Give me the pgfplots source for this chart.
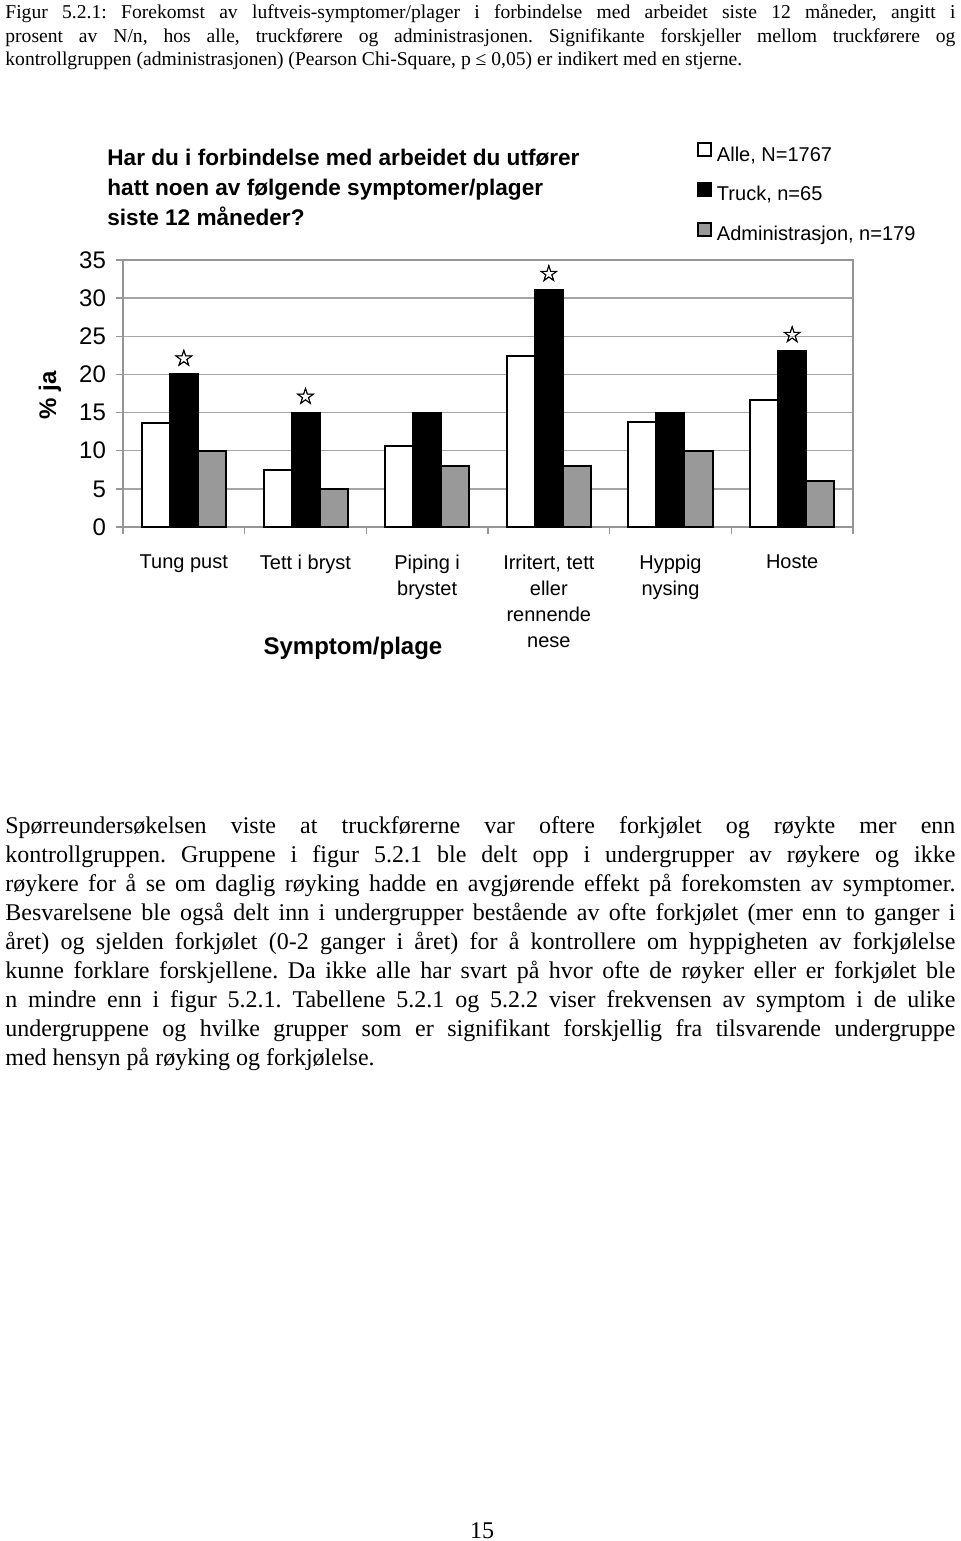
\documentclass[border=0pt]{standalone}
\usepackage{fontspec}
\setmainfont{Liberation Serif}
\setsansfont{Liberation Sans}
\newfontfamily\symfont[FakeBold=1.8]{DejaVu Sans}
\usepackage{pgfplots}
\pgfplotsset{compat=1.18}
\definecolor{admgray}{RGB}{153,153,153}
\definecolor{gridgray}{RGB}{165,165,165}
\definecolor{framegray}{RGB}{150,150,150}
\pgfplotsset{sqleg/.style={legend image code/.code={\draw[##1,line width=0.8pt] (0pt,0pt) rectangle (6.5pt,6.5pt);}}}
\frenchspacing
\hyphenpenalty=10000
\exhyphenpenalty=10000

\begin{document}
\begin{tikzpicture}
\path[use as bounding box] (0,0) rectangle (480pt,-770.5pt);
% caption
\node[anchor=north west, inner sep=0pt, text width=475pt, align=justify,
      font=\fontsize{9.8}{11.75}\selectfont]
  at (2.5pt,-2pt)
  {Figur 5.2.1: Forekomst av luftveis-symptomer/plager i forbindelse med arbeidet siste 12 måneder, angitt i\linebreak prosent av N/n, hos alle, truckførere og administrasjonen. Signifikante forskjeller mellom truckførere og\linebreak kontrollgruppen (administrasjonen) (Pearson Chi-Square, p ≤ 0,05) er indikert med en stjerne.};
% body text
\node[anchor=north west, inner sep=0pt, text width=475pt, align=justify,
      font=\fontsize{12}{14.5}\selectfont]
  at (2.5pt,-408pt)
  {Spørreundersøkelsen viste at truckførerne var oftere forkjølet og røykte mer enn\linebreak kontrollgruppen. Gruppene i figur 5.2.1 ble delt opp i undergrupper av røykere og ikke\linebreak røykere for å se om daglig røyking hadde en avgjørende effekt på forekomsten av symptomer.\linebreak Besvarelsene ble også delt inn i undergrupper bestående av ofte forkjølet (mer enn to ganger i\linebreak året) og sjelden forkjølet (0-2 ganger i året) for å kontrollere om hyppigheten av forkjølelse\linebreak kunne forklare forskjellene. Da ikke alle har svart på hvor ofte de røyker eller er forkjølet ble\linebreak n mindre enn i figur 5.2.1. Tabellene 5.2.1 og 5.2.2 viser frekvensen av symptom i de ulike\linebreak undergruppene og hvilke grupper som er signifikant forskjellig fra tilsvarende undergruppe\linebreak med hensyn på røyking og forkjølelse.};
% page number
\node[anchor=base, inner sep=0pt, font=\fontsize{12}{14}\selectfont] at (241pt,-769pt) {15};
% chart title
\node[anchor=north west, align=left, inner sep=0pt,
      font=\sffamily\bfseries\fontsize{11.3}{15}\selectfont] at (53.5pt,-74.5pt)
  {Har du i forbindelse med arbeidet du utfører\\hatt noen av følgende symptomer/plager\\siste 12 måneder?};
\begin{axis}[
  at={(61.5pt,-263.5pt)}, anchor=south west,
  scale only axis, width=365pt, height=133.5pt,
  xmin=0, xmax=6, ymin=0, ymax=35,
  ytick={0,5,...,35},
  xtick={0.5,1.5,...,5.5},
  xticklabels={Tung pust, Tett i bryst, {Piping i\\brystet}, {Irritert, tett\\eller\\rennende\\nese}, {Hyppig\\nysing}, Hoste},
  minor xtick={0,1,...,6},
  ymajorgrids, grid style={gridgray, line width=0.7pt},
  axis line style={framegray, line width=0.7pt},
  tick align=outside, tick pos=left,
  major tick length=3.5pt, minor tick length=3.5pt,
  tick style={framegray, line width=0.7pt},
  major x tick style={draw=none},
  /pgf/number format/assume math mode=true,
  yticklabel style={font=\sffamily\fontsize{12}{14}\selectfont, xshift=-1.5pt},
  xticklabel style={font=\sffamily\fontsize{10}{13}\selectfont, align=center, anchor=north, yshift=-7pt},
  ylabel={\% ja},
  ylabel style={font=\sffamily\bfseries\fontsize{12}{14}\selectfont, at={(axis description cs:-0.1,0.494)}, anchor=center},
  xlabel={Symptom/plage},
  xlabel style={font=\sffamily\bfseries\fontsize{12}{14}\selectfont, at={(axis description cs:0.315,-0.453)}, anchor=center},
  ybar, bar width=14pt,
  legend style={at={(axis description cs:0.7863,1.442)}, anchor=north west, draw=none, fill=none,
     inner sep=0pt, row sep=6.5pt, column sep=1pt,
     font=\sffamily\fontsize{10}{12}\selectfont,
     nodes={inner sep=1.5pt, text height=7.5pt, text depth=2.5pt}},
  legend cell align=left,
]
\addplot[ybar, bar shift=-14pt, fill=white, draw=black, line width=1pt, sqleg]
  coordinates {(0.5,13.6) (1.5,7.5) (2.5,10.6) (3.5,22.4) (4.5,13.8) (5.5,16.7)};
\addplot[ybar, bar shift=0pt, fill=black, draw=black, line width=1pt, sqleg]
  coordinates {(0.5,20) (1.5,15) (2.5,15) (3.5,31.1) (4.5,15) (5.5,23.1)};
\addplot[ybar, bar shift=14pt, fill=admgray, draw=black, line width=1pt, sqleg]
  coordinates {(0.5,10) (1.5,5) (2.5,8) (3.5,8) (4.5,10) (5.5,6)};
\addplot[ybar, bar shift=0pt, draw=none, fill=none, forget plot,
  nodes near coords={\symfont\fontsize{11.5}{11.5}\selectfont ☆},
  nodes near coords style={anchor=south, inner sep=0pt, yshift=4pt, text=black}]
  coordinates {(0.5,20) (1.5,15) (3.5,31.1) (5.5,23.1)};
\legend{Alle{,} N=1767, Truck{,} n=65, Administrasjon{,} n=179}
\end{axis}
\end{tikzpicture}
\end{document}
